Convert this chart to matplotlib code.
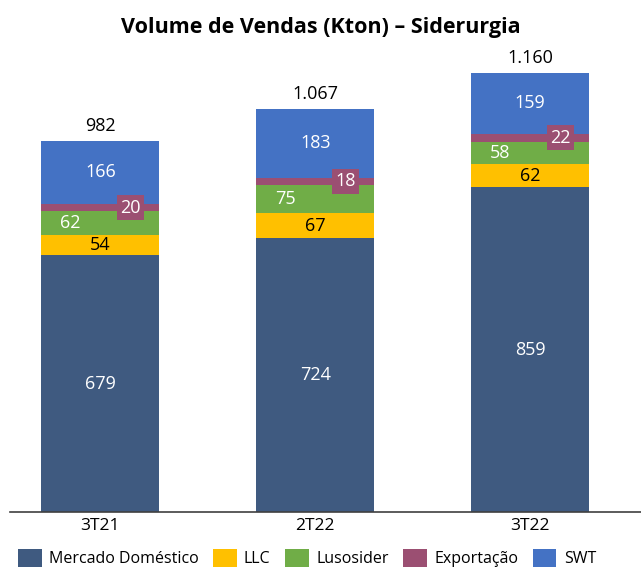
import matplotlib.pyplot as plt
import numpy as np

# dados
trimestres = ['3T21', '2T22', '3T22']
mercado_domestico = [679, 724, 859]
llc = [54, 67, 62]
lusosider = [62, 75, 58]
exportacao = [20, 18, 22]
swt = [166, 183, 159]
totais = ['982', '1.067', '1.160']

series = [
    ('Mercado Doméstico', mercado_domestico, '#3F5A80'),
    ('LLC', llc, '#FFC000'),
    ('Lusosider', lusosider, '#70AD47'),
    ('Exportação', exportacao, '#9B4F72'),
    ('SWT', swt, '#4472C4'),
]

plt.rcParams['font.family'] = ['Open Sans', 'DejaVu Sans']

fig = plt.figure(figsize=(6.41, 5.71), dpi=100)
ax = fig.add_axes([10 / 641, 59 / 571, 1 - 10 / 641, 462 / 571])

x = np.arange(len(trimestres))
largura = 0.55
base = np.zeros(len(trimestres))

for nome, valores, cor in series:
    v = np.array(valores)
    ax.bar(x, v, largura, bottom=base, color=cor, label=nome)
    meio = base + v / 2
    for i in range(len(x)):
        if nome == 'LLC':
            ax.text(x[i], meio[i], str(v[i]), ha='center', va='center', color='black', fontsize=13)
        elif nome == 'Lusosider':
            ax.text(x[i] - 0.14, meio[i], str(v[i]), ha='center', va='center', color='white', fontsize=13)
        elif nome == 'Exportação':
            ax.text(x[i] + 0.14, meio[i], str(v[i]), ha='center', va='center', color='white', fontsize=13,
                    bbox=dict(boxstyle='square,pad=0.2', fc=cor, ec='none'))
        else:
            ax.text(x[i], meio[i], str(v[i]), ha='center', va='center', color='white', fontsize=13)
    base = base + v

for i in range(len(x)):
    ax.text(x[i], base[i] + 16, totais[i], ha='center', va='bottom', color='black', fontsize=13)

ax.set_xlim(-0.42, 2.515)
ax.set_ylim(0, 1222)
ax.set_xticks(x)
ax.set_xticklabels(trimestres, fontsize=12.5)
ax.tick_params(axis='x', length=0, pad=4)
ax.set_yticks([])
for s in ['top', 'right', 'left']:
    ax.spines[s].set_visible(False)
ax.spines['bottom'].set_linewidth(1.2)
ax.spines['bottom'].set_color('#404040')

fig.text(0.5, 544 / 571, 'Volume de Vendas (Kton) – Siderurgia', ha='center', va='center',
         fontsize=15.5, fontweight='bold')

ax.legend(loc='center left', bbox_to_anchor=(0.012, -0.1), ncol=5, frameon=False, fontsize=11.5,
          handlelength=1.5, handleheight=1.3, columnspacing=0.9, handletextpad=0.45,
          borderpad=0, borderaxespad=0)

fig.savefig('out.png', dpi=100)
